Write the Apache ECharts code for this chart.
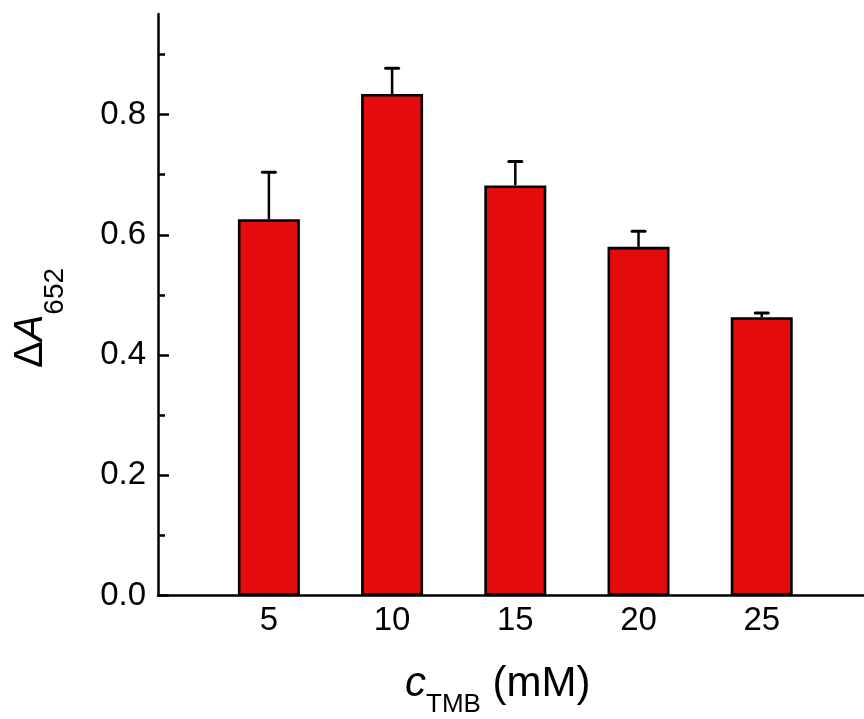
<!DOCTYPE html>
<html>
<head>
<meta charset="utf-8">
<script src="https://cdn.jsdelivr.net/npm/echarts@6/dist/echarts.min.js"></script>
<style>
html,body{margin:0;padding:0;background:#fff;}
#chart{width:864px;height:719px;}
</style>
</head>
<body>
<div id="chart"></div>
<script>
const categories = [5, 10, 15, 20, 25];
const values = [0.626, 0.834, 0.682, 0.580, 0.463];
const errors = [0.078, 0.043, 0.040, 0.026, 0.007];
const yMajorTicks = [0, 0.2, 0.4, 0.6, 0.8];
const yMinorTicks = [0.1, 0.3, 0.5, 0.7, 0.9];
const xTickLabels = [5, 10, 15, 20, 25];

const FONT = '"Liberation Sans", Arial, Helvetica, sans-serif';
const Y_MAX = 0.967;

const chart = echarts.init(document.getElementById('chart'), null, {renderer: 'canvas'});

const barData = categories.map((c, i) => [c, values[i]]);
const errData = categories.map((c, i) => [c, values[i], errors[i]]);

const option = {
  backgroundColor: '#ffffff',
  animation: false,
  grid: {left: 158, right: 0, top: 14, bottom: 123.3, outerBoundsMode: 'none', containLabel: false},
  xAxis: {
    type: 'value',
    min: 0.5,
    max: 29.15,
    axisLine: {show: true, onZero: false, lineStyle: {color: '#000', width: 2.5}},
    axisTick: {show: false},
    splitLine: {show: false},
    axisLabel: {
      customValues: xTickLabels,
      color: '#000', fontSize: 33, fontFamily: FONT, margin: 9
    }
  },
  yAxis: [{
    type: 'value',
    min: 0,
    max: Y_MAX,
    axisLine: {show: true, onZero: false, lineStyle: {color: '#000', width: 2.5}},
    axisTick: {show: true, inside: true, length: 11, customValues: yMajorTicks, lineStyle: {color: '#000', width: 2.5}},
    splitLine: {show: false},
    axisLabel: {
      customValues: yMajorTicks,
      color: '#000', fontSize: 33, fontFamily: FONT, margin: 12,
      formatter: v => Number(v).toFixed(1)
    }
  }, {
    type: 'value',
    min: 0,
    max: Y_MAX,
    position: 'left',
    axisLine: {show: false},
    axisTick: {show: true, inside: true, length: 7, customValues: yMinorTicks, lineStyle: {color: '#000', width: 2.5}},
    splitLine: {show: false},
    axisLabel: {show: false}
  }],
  series: [{
    type: 'bar',
    data: barData,
    barWidth: 62,
    itemStyle: {color: '#e30b0b', borderColor: '#000', borderWidth: 2.6},
    z: 2
  }, {
    type: 'custom',
    data: errData,
    z: 3,
    renderItem: function (params, api) {
      const x = api.value(0), y = api.value(1), e = api.value(2);
      const p0 = api.coord([x, y]);
      const p1 = api.coord([x, y + e]);
      const half = 6.5;
      return {
        type: 'group',
        children: [{
          type: 'line',
          shape: {x1: p0[0], y1: p0[1], x2: p1[0], y2: p1[1]},
          style: {stroke: '#000', lineWidth: 2.5}
        }, {
          type: 'line',
          shape: {x1: p1[0] - half, y1: p1[1], x2: p1[0] + half, y2: p1[1]},
          style: {stroke: '#000', lineWidth: 3, lineCap: 'round'}
        }]
      };
    }
  }],
  graphic: [{
    type: 'text',
    x: 405,
    y: 684,
    style: {
      text: '{c|c}{s|TMB}{n| (mM)}',
      align: 'left',
      verticalAlign: 'middle',
      fill: '#000',
      fontFamily: FONT,
      fontSize: 42,
      rich: {
        c: {fontSize: 42, fontStyle: 'italic', fontFamily: FONT, verticalAlign: 'middle', fill: '#000'},
        s: {fontSize: 26, fontFamily: FONT, verticalAlign: 'middle', padding: [42, 0, 0, 0], fill: '#000'},
        n: {fontSize: 42, fontFamily: FONT, verticalAlign: 'middle', fill: '#000'}
      }
    }
  }, {
    type: 'text',
    x: 31,
    y: 318,
    rotation: Math.PI / 2,
    style: {
      text: '{d|Δ}{a|A}{s|652}',
      align: 'center',
      verticalAlign: 'middle',
      fill: '#000',
      fontFamily: FONT,
      fontSize: 40,
      rich: {
        d: {fontSize: 40, fontFamily: FONT, verticalAlign: 'middle', fill: '#000'},
        a: {fontSize: 40, fontStyle: 'italic', fontFamily: FONT, verticalAlign: 'middle', fill: '#000'},
        s: {fontSize: 28, fontFamily: FONT, verticalAlign: 'middle', padding: [48, 0, 0, 0], fill: '#000'}
      }
    }
  }]
};

chart.setOption(option);
</script>
</body>
</html>
